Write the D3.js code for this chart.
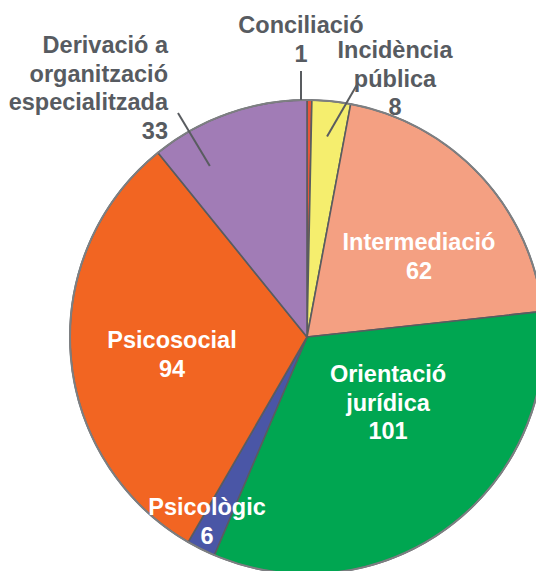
<!DOCTYPE html>
<html>
<head>
<meta charset="utf-8">
<script src="https://cdn.jsdelivr.net/npm/d3@7"></script>
<style>
  body { margin: 0; background: #fff; }
  svg { display: block; }
  text { font-family: "Liberation Sans", Arial, sans-serif; font-weight: bold; font-size: 23.5px; }
</style>
</head>
<body>
<div id="chart"></div>
<script>
const categories = ['Conciliació', 'Incidència pública', 'Intermediació', 'Orientació jurídica', 'Psicològic', 'Psicosocial', 'Derivació a organització especialitzada'];
const values = [1, 8, 62, 101, 6, 94, 33];
const colors = ['#e8553a', '#f5ee6e', '#f4a082', '#00a651', '#4a56a6', '#f26522', '#a17cb6'];

// label text lines and placement (offsets from pie centre)
const labelLines = [
  ['Conciliació', '1'],
  ['Incidència', 'pública', '8'],
  ['Intermediació', '62'],
  ['Orientació', 'jurídica', '101'],
  ['Psicològic', '6'],
  ['Psicosocial', '94'],
  ['Derivació a', 'organització', 'especialitzada', '33']
];
const labelPos = [
  { x: -6, y: -304, anchor: 'middle', inside: false },
  { x: 88, y: -279, anchor: 'middle', inside: false },
  { x: 112, y: -87, anchor: 'middle', inside: true },
  { x: 81, y: 45, anchor: 'middle', inside: true },
  { x: -100, y: 178, anchor: 'middle', inside: true },
  { x: -135, y: 11, anchor: 'middle', inside: true },
  { x: -139, y: -284, anchor: 'end', inside: false }
];
// leader lines: outer point, position along slice (t) and fraction of radius (r)
const leaders = [
  { i: 0, from: [-6, -266], t: 0.5, r: 1.0, vertical: true },
  { i: 1, from: [51, -254], t: 0.48, r: 0.85 },
  { i: 6, from: [-129, -224], t: 0.24, r: 0.83 }
];

const width = 536, height = 571;
const cx = 307, cy = 337, radius = 237;

const svg = d3.select('#chart').append('svg')
  .attr('width', width)
  .attr('height', height);

const g = svg.append('g').attr('transform', `translate(${cx},${cy})`);

const pie = d3.pie().sort(null).value(d => d);
const arcs = pie(values);
const arc = d3.arc().innerRadius(0).outerRadius(radius);

g.selectAll('path.slice')
  .data(arcs)
  .join('path')
  .attr('class', 'slice')
  .attr('d', arc)
  .attr('fill', (d, i) => colors[i])
  .attr('stroke', '#595c60')
  .attr('stroke-width', 1.6)
  .attr('stroke-linejoin', 'round');

g.append('circle')
  .attr('r', radius)
  .attr('fill', 'none')
  .attr('stroke', '#7d7f82')
  .attr('stroke-width', 2);

// leader lines
const leaderEnd = d => {
  const s = arcs[d.i];
  const a = s.startAngle + (s.endAngle - s.startAngle) * d.t;
  return [Math.sin(a) * radius * d.r, -Math.cos(a) * radius * d.r];
};
g.selectAll('line.leader')
  .data(leaders)
  .join('line')
  .attr('class', 'leader')
  .attr('x1', d => d.from[0])
  .attr('y1', d => d.from[1])
  .attr('x2', d => d.vertical ? d.from[0] : leaderEnd(d)[0])
  .attr('y2', d => leaderEnd(d)[1])
  .attr('stroke', '#595c60')
  .attr('stroke-width', 2);

const lineH = 28.5;
const labels = g.selectAll('text.label')
  .data(arcs)
  .join('text')
  .attr('class', 'label')
  .attr('text-anchor', (d, i) => labelPos[i].anchor)
  .attr('fill', (d, i) => labelPos[i].inside ? '#ffffff' : '#575b61');

labels.each(function (d, i) {
  const p = labelPos[i];
  d3.select(this).selectAll('tspan')
    .data(labelLines[i])
    .join('tspan')
    .attr('x', p.x)
    .attr('y', (t, k) => p.y + k * lineH)
    .text(t => t);
});
</script>
</body>
</html>
